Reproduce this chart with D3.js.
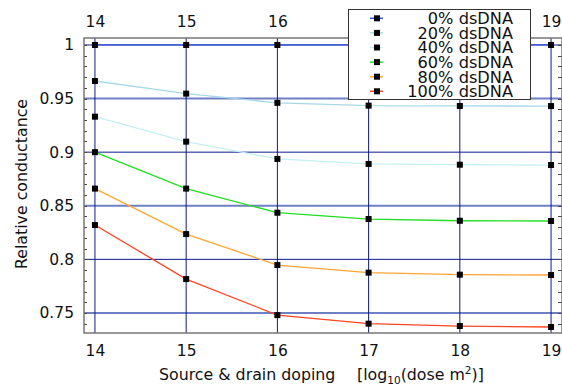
<!DOCTYPE html>
<html>
<head>
<meta charset="utf-8">
<script src="https://cdn.jsdelivr.net/npm/d3@7"></script>
<style>
  body { margin: 0; background: #fff; }
  svg text { font-family: "DejaVu Sans", Verdana, sans-serif; fill: #111; }
</style>
</head>
<body>
<svg id="chart" width="562" height="386"></svg>
<script>
// doping dose, log10(dose m^2)
const doping = [14, 15, 16, 17, 18, 19];
const seriesNames = ['0% dsDNA', '20% dsDNA', '40% dsDNA', '60% dsDNA', '80% dsDNA', '100% dsDNA'];
const seriesColors = ['#3355dd', '#a8d8e8', '#c4f0f2', '#22dd22', '#ffa533', '#ff4422'];
const dna0 = [1, 1, 1, 1, 1, 1];
const dna20 = [0.9664, 0.9546, 0.946, 0.9434, 0.9431, 0.943];
const dna40 = [0.9331, 0.9098, 0.8937, 0.889, 0.8883, 0.888];
const dna60 = [0.9, 0.866, 0.8435, 0.8376, 0.836, 0.8358];
const dna80 = [0.866, 0.8236, 0.7947, 0.7876, 0.7857, 0.7854];
const dna100 = [0.832, 0.7816, 0.748, 0.740, 0.7378, 0.7369];
const yTicks = [0.75, 0.8, 0.85, 0.9, 0.95, 1];

const allSeries = [dna0, dna20, dna40, dna60, dna80, dna100];

const svg = d3.select('#chart');
const pLeft = 84, pRight = 562, pTop = 38, pBottom = 333;

const x = d3.scaleLinear().domain([13.88, 19.12]).range([pLeft, pRight]);
const y = d3.scaleLinear().domain([0.7313, 1.0065]).range([pBottom, pTop]);

// grid
const grid = svg.append('g');
grid.selectAll('line.h').data(yTicks).join('line')
  .attr('x1', pLeft).attr('x2', pRight)
  .attr('y1', d => y(d)).attr('y2', d => y(d))
  .attr('stroke', d => Math.round(d * 100) % 10 === 5 ? '#6f7fc4' : '#0b1a8c')
  .attr('stroke-width', d => Math.round(d * 100) % 10 === 5 ? 2 : 1);
grid.selectAll('line.v').data(doping).join('line')
  .attr('y1', pTop).attr('y2', pBottom)
  .attr('x1', d => x(d)).attr('x2', d => x(d))
  .attr('stroke', '#0b1a8c').attr('stroke-width', 1);

// minor ticks left/right, pointing inward
const minor = d3.range(0.74, 1.001, 0.01);
svg.append('g').selectAll('line').data(minor).join('line')
  .attr('x1', pLeft).attr('x2', pLeft + 3)
  .attr('y1', d => Math.round(y(d)) + 0.5).attr('y2', d => Math.round(y(d)) + 0.5)
  .attr('stroke', '#444');
svg.append('g').selectAll('line').data(minor).join('line')
  .attr('x1', pRight - 4).attr('x2', pRight)
  .attr('y1', d => Math.round(y(d)) + 0.5).attr('y2', d => Math.round(y(d)) + 0.5)
  .attr('stroke', '#444');

// frame
svg.append('rect').attr('x', pLeft).attr('y', pTop)
  .attr('width', pRight - pLeft).attr('height', pBottom - pTop)
  .attr('fill', 'none').attr('stroke', '#777').attr('stroke-width', 1.5);

// axes labels
const axisX = d3.axisBottom(x).tickValues(doping).tickSize(0).tickPadding(12).tickFormat(d3.format('d'));
svg.append('g').attr('transform', `translate(0,${pBottom})`).call(axisX)
  .call(g => g.select('.domain').remove())
  .selectAll('text').attr('font-size', 15.5).attr('fill', '#111');
const axisTop = d3.axisTop(x).tickValues(doping).tickSize(0).tickPadding(11).tickFormat(d3.format('d'));
svg.append('g').attr('transform', `translate(0,${pTop})`).call(axisTop)
  .call(g => g.select('.domain').remove())
  .selectAll('text').attr('font-size', 15.5).attr('fill', '#111');
const axisY = d3.axisLeft(y).tickValues(yTicks).tickSize(0).tickPadding(10)
  .tickFormat(d => d3.format('')(d));
svg.append('g').attr('transform', `translate(${pLeft},0)`).call(axisY)
  .call(g => g.select('.domain').remove())
  .selectAll('text').attr('font-size', 15.5).attr('fill', '#111');

// lines
const line = d3.line().x((d, i) => x(doping[i])).y(d => y(d));
svg.append('g').selectAll('path').data(allSeries).join('path')
  .attr('d', line).attr('fill', 'none')
  .attr('stroke', (d, i) => seriesColors[i]).attr('stroke-width', 1.3);

// markers
allSeries.forEach(s => {
  svg.append('g').selectAll('rect').data(s).join('rect')
    .attr('x', (d, i) => x(doping[i]) - 3).attr('y', d => y(d) - 3)
    .attr('width', 6).attr('height', 6).attr('fill', '#000');
});

// axis titles
svg.append('text').attr('transform', 'translate(27,184) rotate(-90)')
  .attr('text-anchor', 'middle').attr('font-size', 15.8).text('Relative conductance');
const xt = svg.append('text').attr('x', 159).attr('y', 380).attr('font-size', 15.8);
xt.append('tspan').text('Source & drain doping');
xt.append('tspan').attr('x', 357).text('[log');
xt.append('tspan').attr('font-size', 10.5).attr('dy', 4).text('10');
xt.append('tspan').attr('dy', -4).text('(dose m');
xt.append('tspan').attr('font-size', 10.5).attr('dy', -6).text('2');
xt.append('tspan').attr('dy', 6).text(')]');

// legend
const lg = svg.append('g');
lg.append('rect').attr('x', 348.5).attr('y', 9.5).attr('width', 182).attr('height', 90)
  .attr('fill', '#fff').attr('stroke', '#333').attr('stroke-width', 1);
const rows = lg.selectAll('g').data(seriesNames).join('g')
  .attr('transform', (d, i) => `translate(0,${18.3 + i * 14.6})`);
rows.append('line').attr('x1', 370).attr('x2', 383).attr('y1', 0).attr('y2', 0)
  .attr('stroke', (d, i) => seriesColors[i]).attr('stroke-width', 1.5);
rows.append('rect').attr('x', 374).attr('y', -3).attr('width', 6).attr('height', 6).attr('fill', '#000');
rows.append('text').attr('x', 513).attr('y', 0).attr('dy', '0.36em')
  .attr('text-anchor', 'end').attr('font-size', 16.2).text(d => d);
</script>
</body>
</html>
